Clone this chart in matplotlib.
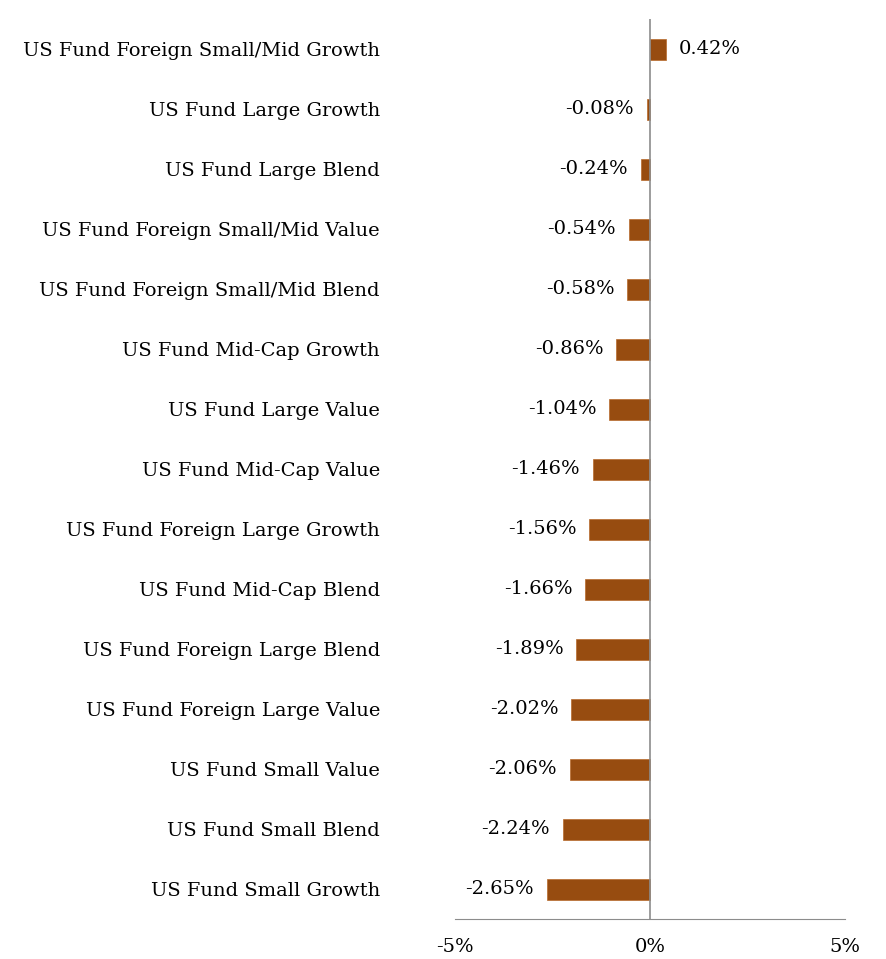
import matplotlib
matplotlib.use('Agg')
from matplotlib import pyplot as plt

plt.rcParams['font.family'] = ['DejaVu Serif']

categories = ['US Fund Foreign Small/Mid Growth', 'US Fund Large Growth',
              'US Fund Large Blend', 'US Fund Foreign Small/Mid Value',
              'US Fund Foreign Small/Mid Blend', 'US Fund Mid-Cap Growth',
              'US Fund Large Value', 'US Fund Mid-Cap Value',
              'US Fund Foreign Large Growth', 'US Fund Mid-Cap Blend',
              'US Fund Foreign Large Blend', 'US Fund Foreign Large Value',
              'US Fund Small Value', 'US Fund Small Blend',
              'US Fund Small Growth']
values = [0.42, -0.08, -0.24, -0.54, -0.58, -0.86, -1.04, -1.46,
          -1.56, -1.66, -1.89, -2.02, -2.06, -2.24, -2.65]
xticks = [-5, 0, 5]
xtick_labels = ['-5%', '0%', '5%']

bar_color = '#974C10'
axis_color = '#8c8c8c'

fig = plt.figure(figsize=(8.87, 9.59), dpi=100)
ax = fig.add_axes([455 / 887, 40 / 959, 390 / 887, 900 / 959])

pos = list(range(len(categories)))
ax.barh(pos, values, height=0.35, color=bar_color, edgecolor='#b86a2a', linewidth=0.5)
ax.set_ylim(len(categories) - 0.5, -0.5)
ax.set_xlim(-5, 5)

# value labels next to each bar
for p, v in zip(pos, values):
    if v >= 0:
        ax.text(v + 0.33, p, '%.2f%%' % v, ha='left', va='center', fontsize=14)
    else:
        ax.text(v - 0.33, p, '%.2f%%' % v, ha='right', va='center', fontsize=14)

ax.set_yticks(pos)
ax.set_yticklabels(categories, fontsize=14)
ax.set_xticks(xticks)
ax.set_xticklabels(xtick_labels, fontsize=14)
ax.tick_params(axis='y', length=0, pad=54)
ax.tick_params(axis='x', length=0, pad=14)

for s in ['top', 'right', 'left']:
    ax.spines[s].set_visible(False)
ax.spines['bottom'].set_color(axis_color)
ax.axvline(0, color=axis_color, linewidth=1.2)

fig.savefig('out.png', dpi=100)
